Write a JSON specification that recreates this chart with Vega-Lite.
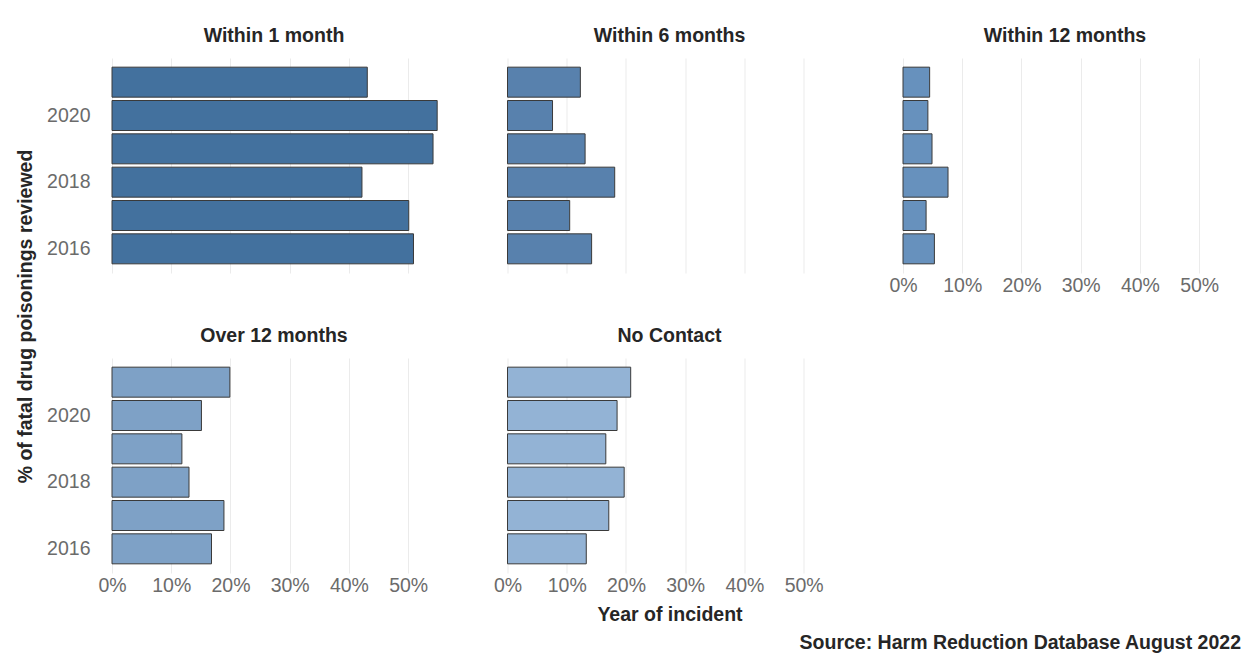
{
  "$schema": "https://vega.github.io/schema/vega-lite/v6.json",
  "background": "white",
  "padding": {"left": 14, "top": 25, "right": 5, "bottom": 5},
  "config": {
    "font": "Liberation Sans",
    "view": {"stroke": null},
    "axis": {
      "labelFont": "Liberation Sans",
      "labelFontSize": 19.5,
      "labelColor": "#6b6b6b",
      "labelFlush": false,
      "titleFont": "Liberation Sans",
      "titleFontSize": 19.5,
      "titleColor": "#262626",
      "titleFontWeight": "bold",
      "ticks": false,
      "tickSize": 0,
      "domain": false,
      "gridColor": "#ebebeb",
      "gridWidth": 1
    },
    "title": {
      "font": "Liberation Sans",
      "fontSize": 19.5,
      "fontWeight": "bold",
      "color": "#262626",
      "anchor": "middle",
      "frame": "group",
      "baseline": "alphabetic",
      "offset": 12
    }
  },
  "datasets": {
    "d": [
      {"contact": "Within 1 month", "year": 2021, "pct": 0.431},
      {"contact": "Within 1 month", "year": 2020, "pct": 0.549},
      {"contact": "Within 1 month", "year": 2019, "pct": 0.542},
      {"contact": "Within 1 month", "year": 2018, "pct": 0.422},
      {"contact": "Within 1 month", "year": 2017, "pct": 0.501},
      {"contact": "Within 1 month", "year": 2016, "pct": 0.509},
      {"contact": "Within 6 months", "year": 2021, "pct": 0.123},
      {"contact": "Within 6 months", "year": 2020, "pct": 0.076},
      {"contact": "Within 6 months", "year": 2019, "pct": 0.131},
      {"contact": "Within 6 months", "year": 2018, "pct": 0.181},
      {"contact": "Within 6 months", "year": 2017, "pct": 0.105},
      {"contact": "Within 6 months", "year": 2016, "pct": 0.142},
      {"contact": "Within 12 months", "year": 2021, "pct": 0.045},
      {"contact": "Within 12 months", "year": 2020, "pct": 0.042},
      {"contact": "Within 12 months", "year": 2019, "pct": 0.049},
      {"contact": "Within 12 months", "year": 2018, "pct": 0.076},
      {"contact": "Within 12 months", "year": 2017, "pct": 0.039},
      {"contact": "Within 12 months", "year": 2016, "pct": 0.053},
      {"contact": "Over 12 months", "year": 2021, "pct": 0.199},
      {"contact": "Over 12 months", "year": 2020, "pct": 0.151},
      {"contact": "Over 12 months", "year": 2019, "pct": 0.118},
      {"contact": "Over 12 months", "year": 2018, "pct": 0.130},
      {"contact": "Over 12 months", "year": 2017, "pct": 0.189},
      {"contact": "Over 12 months", "year": 2016, "pct": 0.168},
      {"contact": "No Contact", "year": 2021, "pct": 0.208},
      {"contact": "No Contact", "year": 2020, "pct": 0.185},
      {"contact": "No Contact", "year": 2019, "pct": 0.166},
      {"contact": "No Contact", "year": 2018, "pct": 0.197},
      {"contact": "No Contact", "year": 2017, "pct": 0.171},
      {"contact": "No Contact", "year": 2016, "pct": 0.133}
    ]
  },
  "data": {"name": "d"},
  "title": {
    "text": "Source: Harm Reduction Database August 2022",
    "orient": "bottom",
    "anchor": "end",
    "frame": "bounds",
    "offset": 10,
    "dx": 14
  },
  "columns": 3,
  "bounds": "flush",
  "spacing": {"row": 85, "column": 71.5},
  "concat": [
    {
      "title": "Within 1 month",
      "width": 324, "height": 215,
      "transform": [{"filter": "datum.contact === 'Within 1 month'"}],
      "mark": {"type": "bar", "stroke": "#3a3a3a", "strokeWidth": 1},
      "encoding": {
        "y": {"field": "year", "type": "ordinal", "sort": "descending",
              "scale": {"paddingInner": 0.1, "paddingOuter": 0.275},
              "axis": {"values": [2016, 2018, 2020], "title": "% of fatal drug poisonings reviewed",
                       "labelPadding": 22, "grid": false, "titleX": -87, "titleY": 258,
                       "titleBaseline": "middle", "titleAlign": "center", "titleAngle": -90}},
        "x": {"field": "pct", "type": "quantitative", "scale": {"domain": [0, 0.547], "nice": false},
              "axis": {"values": [0, 0.1, 0.2, 0.3, 0.4, 0.5], "labels": false, "title": null, "grid": true}},
        "color": {"field": "contact", "type": "nominal", "legend": null,
                  "scale": {"domain": ["Within 1 month", "Within 6 months", "Within 12 months", "Over 12 months", "No Contact"],
                            "range": ["#43719e", "#5881ad", "#6791bd", "#7ea1c6", "#93b3d5"]}}
      }
    },
    {
      "title": "Within 6 months",
      "width": 324, "height": 215,
      "transform": [{"filter": "datum.contact === 'Within 6 months'"}],
      "mark": {"type": "bar", "stroke": "#3a3a3a", "strokeWidth": 1},
      "encoding": {
        "y": {"field": "year", "type": "ordinal", "sort": "descending",
              "scale": {"paddingInner": 0.1, "paddingOuter": 0.275}, "axis": null},
        "x": {"field": "pct", "type": "quantitative", "scale": {"domain": [0, 0.547], "nice": false},
              "axis": {"values": [0, 0.1, 0.2, 0.3, 0.4, 0.5], "labels": false, "title": null, "grid": true}},
        "color": {"field": "contact", "type": "nominal", "legend": null,
                  "scale": {"domain": ["Within 1 month", "Within 6 months", "Within 12 months", "Over 12 months", "No Contact"],
                            "range": ["#43719e", "#5881ad", "#6791bd", "#7ea1c6", "#93b3d5"]}}
      }
    },
    {
      "title": "Within 12 months",
      "width": 324, "height": 215,
      "transform": [{"filter": "datum.contact === 'Within 12 months'"}],
      "mark": {"type": "bar", "stroke": "#3a3a3a", "strokeWidth": 1},
      "encoding": {
        "y": {"field": "year", "type": "ordinal", "sort": "descending",
              "scale": {"paddingInner": 0.1, "paddingOuter": 0.275}, "axis": null},
        "x": {"field": "pct", "type": "quantitative", "scale": {"domain": [0, 0.547], "nice": false},
              "axis": {"values": [0, 0.1, 0.2, 0.3, 0.4, 0.5], "format": ".0%", "labelPadding": 3, "title": null, "grid": true}},
        "color": {"field": "contact", "type": "nominal", "legend": null,
                  "scale": {"domain": ["Within 1 month", "Within 6 months", "Within 12 months", "Over 12 months", "No Contact"],
                            "range": ["#43719e", "#5881ad", "#6791bd", "#7ea1c6", "#93b3d5"]}}
      }
    },
    {
      "title": "Over 12 months",
      "width": 324, "height": 215,
      "transform": [{"filter": "datum.contact === 'Over 12 months'"}],
      "mark": {"type": "bar", "stroke": "#3a3a3a", "strokeWidth": 1},
      "encoding": {
        "y": {"field": "year", "type": "ordinal", "sort": "descending",
              "scale": {"paddingInner": 0.1, "paddingOuter": 0.275},
              "axis": {"values": [2016, 2018, 2020], "title": null, "labelPadding": 22, "grid": false}},
        "x": {"field": "pct", "type": "quantitative", "scale": {"domain": [0, 0.547], "nice": false},
              "axis": {"values": [0, 0.1, 0.2, 0.3, 0.4, 0.5], "format": ".0%", "labelPadding": 3, "title": null, "grid": true}},
        "color": {"field": "contact", "type": "nominal", "legend": null,
                  "scale": {"domain": ["Within 1 month", "Within 6 months", "Within 12 months", "Over 12 months", "No Contact"],
                            "range": ["#43719e", "#5881ad", "#6791bd", "#7ea1c6", "#93b3d5"]}}
      }
    },
    {
      "title": "No Contact",
      "width": 324, "height": 215,
      "transform": [{"filter": "datum.contact === 'No Contact'"}],
      "mark": {"type": "bar", "stroke": "#3a3a3a", "strokeWidth": 1},
      "encoding": {
        "y": {"field": "year", "type": "ordinal", "sort": "descending",
              "scale": {"paddingInner": 0.1, "paddingOuter": 0.275}, "axis": null},
        "x": {"field": "pct", "type": "quantitative", "scale": {"domain": [0, 0.547], "nice": false},
              "axis": {"values": [0, 0.1, 0.2, 0.3, 0.4, 0.5], "format": ".0%", "labelPadding": 3,
                       "title": "Year of incident", "titlePadding": 11, "grid": true}},
        "color": {"field": "contact", "type": "nominal", "legend": null,
                  "scale": {"domain": ["Within 1 month", "Within 6 months", "Within 12 months", "Over 12 months", "No Contact"],
                            "range": ["#43719e", "#5881ad", "#6791bd", "#7ea1c6", "#93b3d5"]}}
      }
    }
  ]
}
